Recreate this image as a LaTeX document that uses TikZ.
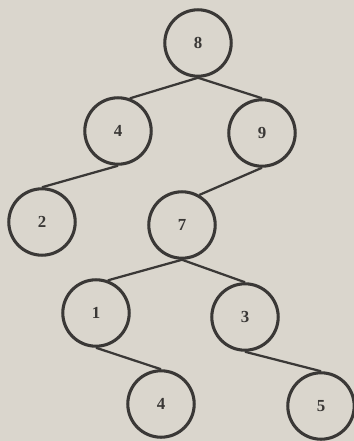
\documentclass[tikz,border=0pt]{standalone}
\usepackage{fontspec}
\setmainfont{Liberation Serif}
\usepackage{xcolor}
\usepackage{tikz}
\definecolor{paper}{RGB}{218,214,205}
\definecolor{ink}{RGB}{58,56,54}

\begin{document}
\begin{tikzpicture}[x=0.025cm, y=-0.025cm,
    vertex/.style={circle, draw=ink, line width=2.2pt, minimum size=1.66cm,
      inner sep=0pt, text=ink, font=\fontsize{12}{14}\selectfont\bfseries},
    branch/.style={draw=ink, line width=1.6pt}]
  % paper background
  \fill[paper] (0,0) rectangle (354,441);
  \useasboundingbox (0,0) rectangle (354,441);
  % nodes
  \node[vertex] (n8) at (198,43) {8};
  \node[vertex] (n4) at (118,131) {4};
  \node[vertex] (n9) at (262,133) {9};
  \node[vertex] (n2) at (42,222) {2};
  \node[vertex] (n7) at (182,225) {7};
  \node[vertex] (n1) at (96,313) {1};
  \node[vertex] (n3) at (245,317) {3};
  \node[vertex] (n4b) at (161,404) {4};
  \node[vertex] (n5) at (321,406) {5};
  % edges
  \draw[branch] (n8.south) -- (n4.70);
  \draw[branch] (n8.south) -- (n9.north);
  \draw[branch] (n4.south) -- (n2.north);
  \draw[branch] (n9.south) -- (n7.60);
  \draw[branch] (n7.south) -- (n1.70);
  \draw[branch] (n7.south) -- (n3.north);
  \draw[branch] (n1.south) -- (n4b.north);
  \draw[branch] (n3.south) -- (n5.north);
\end{tikzpicture}
\end{document}
